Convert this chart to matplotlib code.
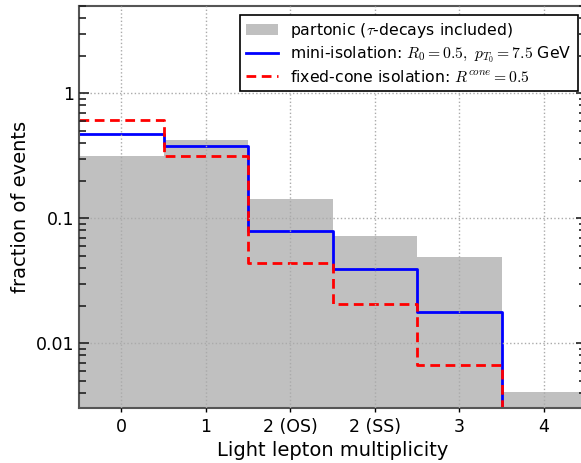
import matplotlib
matplotlib.use('Agg')
import matplotlib.pyplot as plt
from matplotlib.ticker import FixedLocator, FuncFormatter, LogLocator, NullFormatter
import numpy as np

plt.rcParams['mathtext.fontset'] = 'cm'
plt.rcParams['font.family'] = 'DejaVu Sans'

#categories on the x axis
labels = ['0', '1', '2 (OS)', '2 (SS)', '3', '4']

#fraction of events in each bin
partonic = [0.315, 0.42, 0.143, 0.072, 0.049, 0.0041]
mini_iso = [0.472, 0.381, 0.079, 0.039, 0.0177, 1e-6]
fixed_cone = [0.611, 0.313, 0.0436, 0.0206, 0.00667, 1e-6]

x = np.arange(len(labels))
edges = np.append(x - 0.5, x[-1] + 0.5)

fig = plt.figure(figsize=(5.81, 4.63), dpi=100)
ax = fig.add_axes([79/581, 1-408/463, (586-79)/581, (408-6)/463])

bars = ax.bar(x, partonic, width=1.0, color='#c0c0c0', edgecolor='none',
              label=r'partonic ($\tau$-decays included)')

#step lines, extended to the last edge
l1, = ax.step(edges, mini_iso + [mini_iso[-1]], where='post', color='blue', lw=2,
              label=r'mini-isolation: $R_0=0.5,\ p_{T_0}=7.5$ GeV')
l2, = ax.step(edges, fixed_cone + [fixed_cone[-1]], where='post', color='red', lw=2,
              ls=(0, (3.5, 2)), label=r'fixed-cone isolation: $R^{cone}=0.5$')

ax.set_yscale('log')
ax.set_ylim(0.00303, 5)
ax.set_xlim(-0.5, 5.5)

ax.set_xticks(x)
ax.set_xticklabels(labels)
ax.yaxis.set_major_locator(FixedLocator([0.01, 0.1, 1]))
ax.yaxis.set_major_formatter(FuncFormatter(lambda v, p: '%g' % v))
ax.yaxis.set_minor_locator(LogLocator(base=10, subs=np.arange(2, 10)))
ax.yaxis.set_minor_formatter(NullFormatter())

ax.tick_params(axis='y', which='major', direction='in', length=7, width=1.2,
               left=True, right=True, labelsize=12.5, color='#222222')
ax.tick_params(axis='y', which='minor', direction='in', length=5, width=1.2,
               left=True, right=True, color='#222222')
ax.tick_params(axis='x', which='major', direction='out', length=3, width=1,
               labelsize=12.5, pad=4)

ax.grid(True, which='major', color='#aaaaaa', ls=':', lw=1)
ax.set_axisbelow(False)

for s in ax.spines.values():
    s.set_color('#555555')
    s.set_linewidth(1.5)

ax.set_xlabel('Light lepton multiplicity', fontsize=14)
ax.set_ylabel('fraction of events', fontsize=14)

leg = ax.legend([bars, l1, l2], [bars.get_label(), l1.get_label(), l2.get_label()],
                loc='upper right', bbox_to_anchor=(0.984, 0.978),
                fontsize=11.3, fancybox=False, framealpha=1, edgecolor='black',
                borderaxespad=0.0, handlelength=2.0, labelspacing=0.25)
leg.get_frame().set_linewidth(1.2)

fig.savefig('out.png', dpi=100)
